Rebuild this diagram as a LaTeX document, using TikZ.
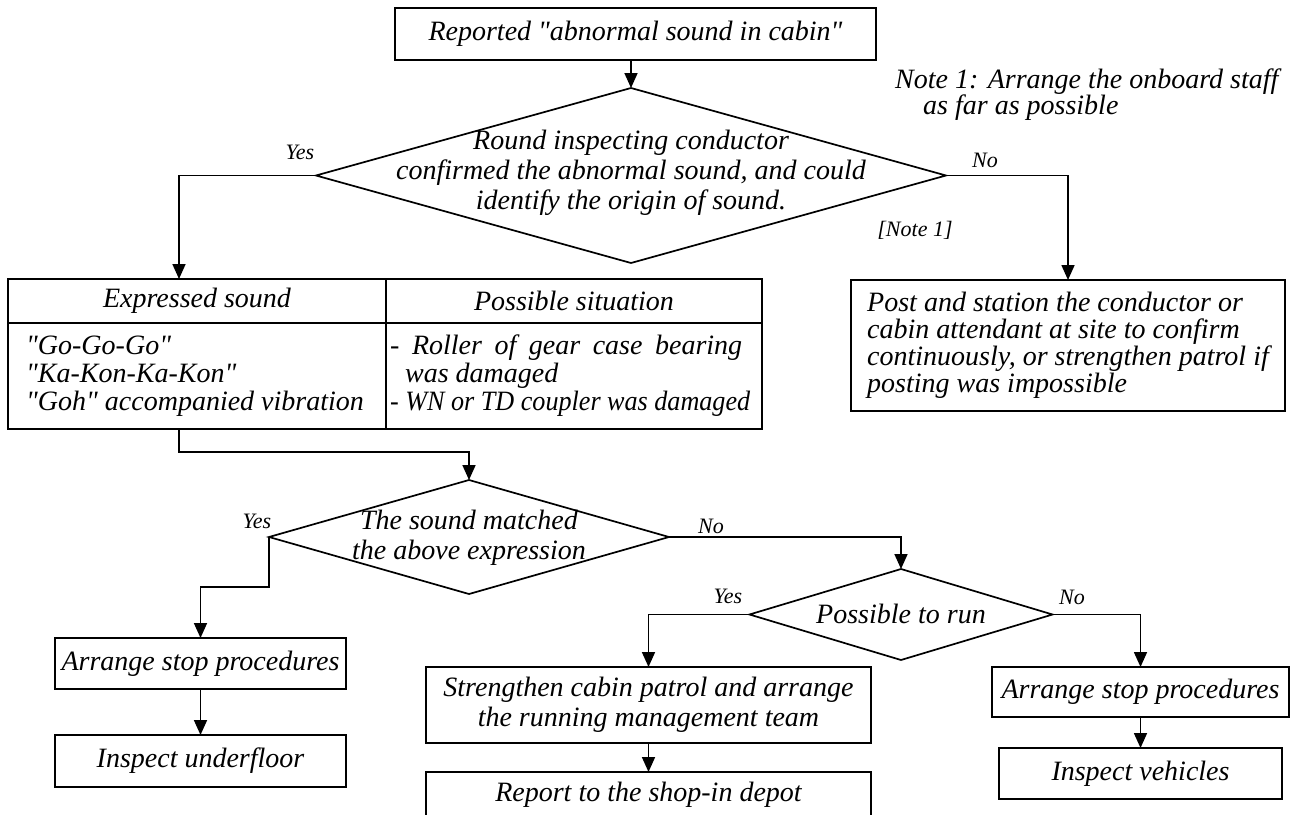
\documentclass[tikz,border=0pt]{standalone}
\usepackage{fontspec}
\usepackage{graphicx}
\newfontfamily\rmtxt{Liberation Serif}
\usetikzlibrary{shapes.geometric,arrows.meta}
\begin{document}
\begin{tikzpicture}[x=1pt,y=-1pt,
  txt/.style={font=\rmtxt\itshape\fontsize{28}{27}\selectfont, inner sep=0pt},
  lbl/.style={font=\rmtxt\itshape\fontsize{22}{22}\selectfont, inner sep=0pt},
  box/.style={draw, line width=1.7pt, rectangle, inner sep=0pt, outer sep=0pt, txt, align=center},
  dec/.style={draw, line width=1.7pt, diamond, inner sep=0pt, outer sep=0pt},
  arr/.style={line width=1.7pt, -{Triangle[length=15pt,width=13pt]}},
  link/.style={line width=1.7pt}]
\clip (0,0) rectangle (1293,814);

% start
\node[box, minimum width=481pt, minimum height=52pt] (top) at (635.5,34) {Reported "abnormal sound in cabin"};

% first decision
\node[dec, minimum width=630pt, minimum height=175pt] (d1) at (631,175.5) {};
\node[txt, align=center, font=\rmtxt\itshape\fontsize{28}{30}\selectfont] (d1t) at (631,173) {Round inspecting conductor\\confirmed the abnormal sound, and could\\identify the origin of sound.};
\node[lbl] (y1) at (300,152) {Yes};
\node[lbl] (n1) at (985,160) {No};
\node[lbl] (nref) at (915,230) {[Note 1]};
\node[txt, anchor=base west] (note) at (895,88) {Note 1: Arrange the onboard staff};
\node[txt, anchor=base west] (note2) at (923,114) {as far as possible};

% sound table
\node[draw, line width=1.7pt, inner sep=0pt, outer sep=0pt, minimum width=754pt, minimum height=150pt] (tbl) at (385,354) {};
\draw[link] (8,323) -- (762,323);
\draw[link] (386,279) -- (386,429);
\node[txt] (h1) at (197,301) {Expressed sound};
\node[txt] (h2) at (574,301) {Possible situation};
\node[txt, align=left, anchor=west, font=\rmtxt\itshape\fontsize{28}{28}\selectfont] (b1) at (26,376) {"Go-Go-Go"\\"Ka-Kon-Ka-Kon"\\"Goh" accompanied vibration};
\node[txt, align=left, anchor=west, font=\rmtxt\itshape\fontsize{28}{28}\selectfont] (b2) at (390,376) {\makebox[352pt][s]{- Roller of gear case bearing}\\\hspace*{15pt}was damaged\\\resizebox{360pt}{\height}{- WN or TD coupler was damaged}};

% "No" branch of first decision
\node[box, minimum width=434pt, minimum height=131pt, align=left] (post) at (1068,345.5) {Post and station the conductor or\\cabin attendant at site to confirm\\continuously, or strengthen patrol if\\posting was impossible};

% second decision
\node[dec, minimum width=400pt, minimum height=114pt] (d2) at (469,537) {};
\node[txt, align=center, font=\rmtxt\itshape\fontsize{28}{30}\selectfont] (d2t) at (469,538) {The sound matched\\the above expression};
\node[lbl] (y2) at (257,521) {Yes};
\node[lbl] (n2) at (711,526) {No};

\node[box, minimum width=291pt, minimum height=51pt] (stopL) at (200.5,663.5) {Arrange stop procedures};
\node[box, minimum width=291pt, minimum height=52pt] (insp) at (200.5,761) {Inspect underfloor};

% third decision
\node[dec, minimum width=303pt, minimum height=91pt] (d3) at (901,614.5) {};
\node[txt] (d3t) at (901,614) {Possible to run};
\node[lbl] (y3) at (728,596) {Yes};
\node[lbl] (n3) at (1072,597) {No};

\node[box, minimum width=445pt, minimum height=76pt, font=\rmtxt\itshape\fontsize{28}{30}\selectfont] (str) at (648.5,705) {Strengthen cabin patrol and arrange\\the running management team};
\node[box, minimum width=445pt, minimum height=46pt] (rep) at (648.5,795) {Report to the shop-in depot};
\node[box, minimum width=297pt, minimum height=50pt] (stopR) at (1140.5,692) {Arrange stop procedures};
\node[box, minimum width=283pt, minimum height=51pt] (veh) at (1140.5,773.5) {Inspect vehicles};

% connectors
\coordinate (tblIn) at (179,279);
\coordinate (tblOut) at (179,429);
\coordinate (bendA) at (179,452);
\coordinate (bendB) at (269,587);
\draw[arr] (top.south -| d1.north) -- (d1.north);
\draw[arr] (d1.west) -| (tblIn);
\draw[arr] (d1.east) -| (post.north);
\draw[arr] (tblOut) -- (bendA) -| (d2.north);
\draw[arr] (d2.west) -- (bendB) -| (stopL.north);
\draw[arr] (stopL.south) -- (insp.north);
\draw[arr] (d2.east) -| (d3.north);
\draw[arr] (d3.west) -| (str.north);
\draw[arr] (d3.east) -| (stopR.north);
\draw[arr] (str.south) -- (rep.north);
\draw[arr] (stopR.south) -- (veh.north);
\end{tikzpicture}
\end{document}
